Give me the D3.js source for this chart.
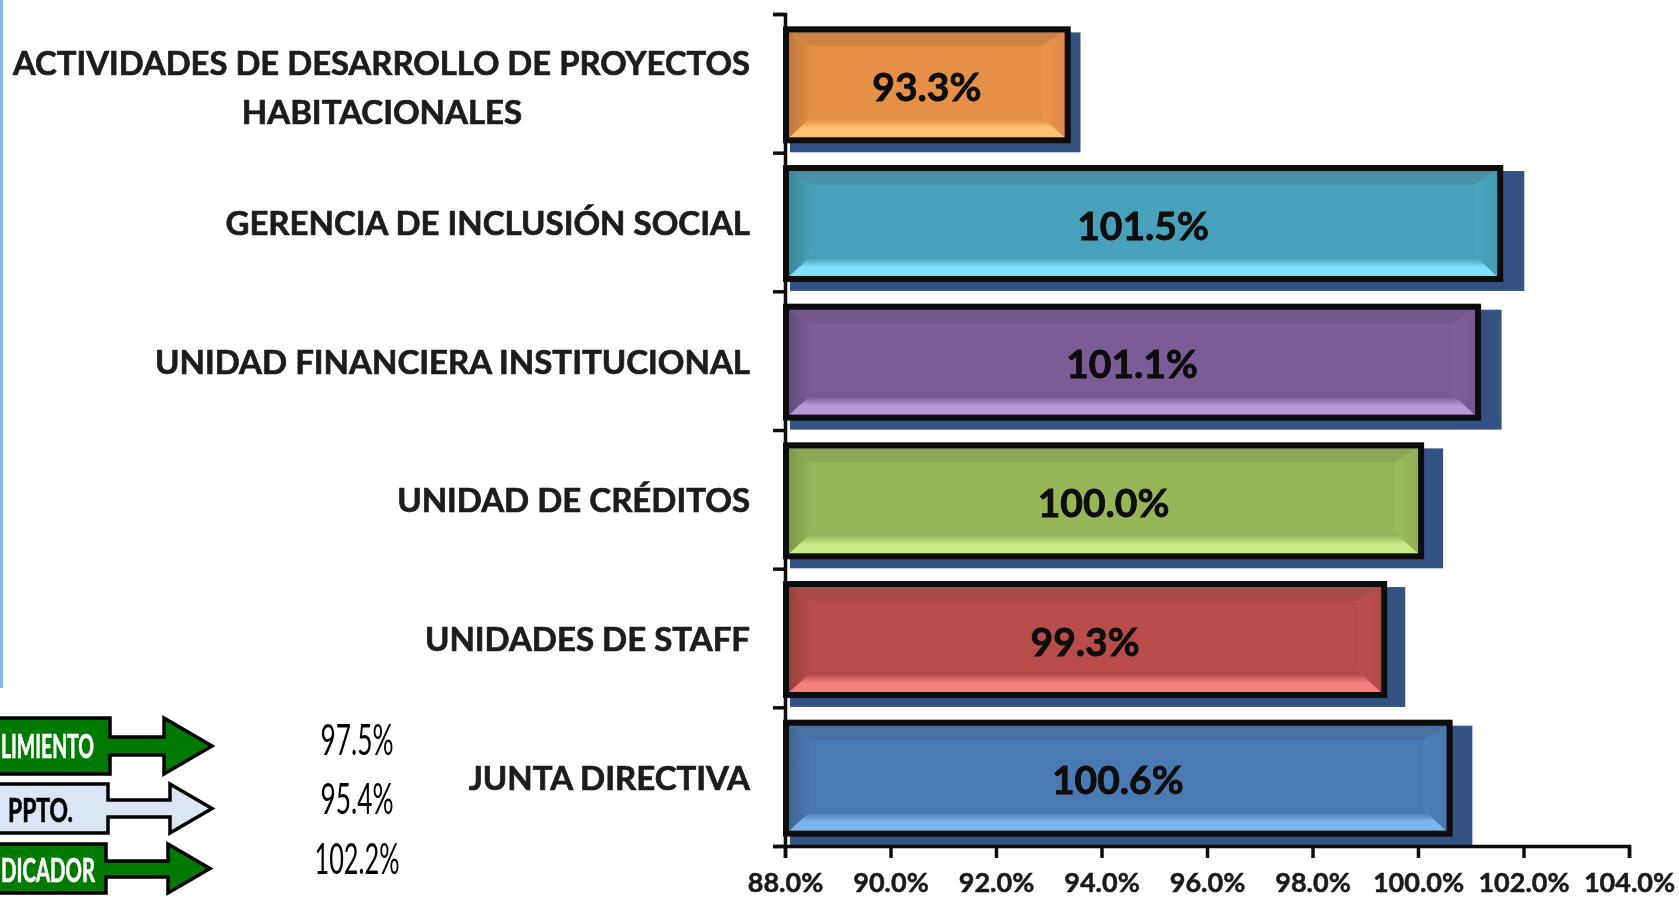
<!DOCTYPE html>
<html><head><meta charset="utf-8">
<script src="https://cdnjs.cloudflare.com/ajax/libs/d3/7.8.5/d3.min.js"></script>
<style>html,body{margin:0;padding:0;background:#fff;overflow:hidden}svg{display:block}</style>
</head><body><svg id="c" width="1679" height="899"></svg>
<script>
const categories = [["ACTIVIDADES DE DESARROLLO DE PROYECTOS","HABITACIONALES"],["GERENCIA DE INCLUSIÓN SOCIAL"],["UNIDAD FINANCIERA INSTITUCIONAL"],["UNIDAD DE CRÉDITOS"],["UNIDADES DE STAFF"],["JUNTA DIRECTIVA"]];
const values = [93.34,101.54,101.12,100.04,99.34,100.58];
const baseColors = ["#E68F47","#47A1BA","#7A5C97","#98B558","#B84D4A","#4C7AB3"];
const topColors = ["#C47F47","#4E8B9E","#6E5C88","#87A05A","#A3504D","#4F7099"];
const lightColors = ["#FFC172","#7FDEFA","#B798DA","#C9EA86","#F5807D","#80B4EF"];
const xTicks = [88,90,92,94,96,98,100,102,104];
const legendLabels = ["LIMIENTO","PPTO.","DICADOR"];
const legendValues = ["97.5%","95.4%","102.2%"];

const svg = d3.select("#c");
const defs = svg.append("defs");
defs.append("filter").attr("id","soft").attr("x",0).attr("y",0)
  .attr("filterUnits","userSpaceOnUse").attr("width",1679).attr("height",899)
  .append("feGaussianBlur").attr("stdDeviation",0.55);
const root = svg.append("g").attr("filter","url(#soft)");

const x = d3.scaleLinear().domain([88,104]).range([785,1629]);
const yTop = 14, yBottom = 846;
const y = d3.scaleBand().domain(d3.range(categories.length)).range([yTop,yBottom]).paddingInner(0.2).paddingOuter(0.1);
const yTick = d3.scaleLinear().domain([0,categories.length]).range([yTop,yBottom]);
const sw = 6;

root.append("rect").attr("x",0).attr("y",0).attr("width",3).attr("height",688).attr("fill","#85B8E2");

values.forEach((v,i)=>{
  const g1 = defs.append("linearGradient").attr("id","t"+i).attr("x1",0).attr("y1",0).attr("x2",0).attr("y2",1);
  g1.append("stop").attr("offset",0).attr("stop-color",topColors[i]);
  g1.append("stop").attr("offset",1).attr("stop-color",d3.color(baseColors[i]).darker(0.2));
  const g2 = defs.append("linearGradient").attr("id","b"+i).attr("x1",0).attr("y1",0).attr("x2",0).attr("y2",1);
  g2.append("stop").attr("offset",0).attr("stop-color",d3.color(baseColors[i]).darker(0.1));
  g2.append("stop").attr("offset",0.15).attr("stop-color",baseColors[i]);
  g2.append("stop").attr("offset",0.5).attr("stop-color",lightColors[i]);
  g2.append("stop").attr("offset",1).attr("stop-color",lightColors[i]);
  const g3 = defs.append("linearGradient").attr("id","l"+i);
  g3.append("stop").attr("offset",0).attr("stop-color",d3.color(baseColors[i]).darker(0.6));
  g3.append("stop").attr("offset",1).attr("stop-color",baseColors[i]);
  const g4 = defs.append("linearGradient").attr("id","r"+i);
  g4.append("stop").attr("offset",0).attr("stop-color",d3.color(baseColors[i]).brighter(0.1));
  g4.append("stop").attr("offset",1).attr("stop-color",d3.color(baseColors[i]).darker(0.15));
});

const poly = pts => pts.map(p=>p.join(",")).join(" ");
const dy = 1.5;
const bars = root.selectAll("g.bar").data(values).join("g").attr("class","bar");
bars.append("rect").attr("fill","#365282")
  .attr("x",x(88)+5).attr("y",(d,i)=>y(i)+dy+3)
  .attr("width",d=>(x(d)-x(88))*1.026+1.5)
  .attr("height",(d,i)=>Math.min(y.bandwidth()+9, yBottom-(y(i)+dy+3)));
bars.each(function(d,i){
  const g = d3.select(this);
  const x0 = x(88)+1, x1 = x(d)+1, y0 = y(i)+dy, y1 = y0+y.bandwidth();
  const bx = 26, bt = 17, bb = 24;
  g.append("rect").attr("x",x0).attr("y",y0).attr("width",x1-x0).attr("height",y1-y0).attr("fill",baseColors[i]);
  g.append("polygon").attr("fill",`url(#t${i})`).attr("points",poly([[x0,y0],[x1,y0],[x1-bx,y0+bt],[x0+bx,y0+bt]]));
  g.append("polygon").attr("fill",`url(#b${i})`).attr("points",poly([[x0,y1],[x1,y1],[x1-bx,y1-bb],[x0+bx,y1-bb]]));
  g.append("polygon").attr("fill",`url(#l${i})`).attr("points",poly([[x0,y0],[x0+bx,y0+bt],[x0+bx,y1-bb],[x0,y1]]));
  g.append("polygon").attr("fill",`url(#r${i})`).attr("points",poly([[x1,y0],[x1-bx,y0+bt],[x1-bx,y1-bb],[x1,y1]]));
  g.append("rect").attr("x",x0).attr("y",y0).attr("width",x1-x0).attr("height",y1-y0)
    .attr("fill","none").attr("stroke","#0a0a0a").attr("stroke-width",sw);
  g.append("text").attr("x",(x0+x1)/2).attr("y",(y0+y1)/2+16).attr("text-anchor","middle")
    .attr("font-family","Lato").attr("font-weight",700).attr("font-size",39).attr("fill","#0a0a0a")
    .attr("stroke","#0a0a0a").attr("stroke-width",0.8)
    .text(d.toFixed(1)+"%");
});

const yAxis = d3.axisLeft(yTick).ticks(categories.length).tickFormat("").tickSize(12).tickSizeOuter(12);
const ga = root.append("g").attr("transform",`translate(${x(88)},0)`).call(yAxis);
const xAxis = d3.axisBottom(x).tickValues(xTicks).tickFormat(d=>d.toFixed(1)+"%").tickSize(12).tickSizeOuter(12).tickPadding(15);
const gx = root.append("g").attr("transform",`translate(0,${yBottom})`).call(xAxis);
[ga,gx].forEach(a=>{a.selectAll("path,line").attr("stroke","#111").attr("stroke-width",3.5);});
gx.selectAll("text").attr("font-family","Lato").attr("font-weight",700).attr("font-size",27).attr("fill","#1a1a1a")
  .attr("stroke","#1a1a1a").attr("stroke-width",0.5);

const labels = root.selectAll("g.lab").data(categories).join("g").attr("class","lab");
labels.each(function(lines,i){
  const cy = yTick(i+0.5);
  const g = d3.select(this);
  const common = t=>t.attr("font-family","Lato").attr("font-weight",700).attr("font-size",33).attr("fill","#1c1c1c")
    .attr("stroke","#1c1c1c").attr("stroke-width",0.7);
  if(lines.length===2){
    common(g.append("text")).attr("x",13).attr("y",75).attr("textLength",737).attr("lengthAdjust","spacingAndGlyphs").text(lines[0]);
    common(g.append("text")).attr("x",382).attr("y",124).attr("text-anchor","middle").text(lines[1]);
  } else {
    common(g.append("text")).attr("x",750).attr("y",cy+13).attr("text-anchor","end").text(lines[0]);
  }
});

const arrows = [
 {l:-5,r:110,t:718,b:774,st:737,sb:755,hx:164,tip:212,fill:"#037A03",tc:"#fff",tx:1,tw:93,by:758},
 {l:-5,r:108,t:784,b:833,st:800,sb:817,hx:170,tip:212,fill:"#DCE6F2",tc:"#000",tx:8,tw:65,by:822},
 {l:-5,r:106,t:844,b:893,st:861,sb:877,hx:168,tip:210,fill:"#037A03",tc:"#fff",tx:1,tw:94,by:882}];
const vals = [{cx:357,by:755,w:73},{cx:357,by:814,w:73},{cx:357,by:874,w:85}];
arrows.forEach((a,i)=>{
  root.append("polygon").attr("fill",a.fill).attr("stroke","#000").attr("stroke-width",3.5)
   .attr("points",poly([[a.l,a.t],[a.r,a.t],[a.r,a.st],[a.hx,a.st],[a.hx,a.t],[a.tip,(a.t+a.b)/2],[a.hx,a.b],[a.hx,a.sb],[a.r,a.sb],[a.r,a.b],[a.l,a.b]]));
  root.append("text").attr("x",a.tx).attr("y",a.by).attr("textLength",a.tw).attr("lengthAdjust","spacingAndGlyphs")
   .attr("font-family","Lato").attr("font-weight",700).attr("font-size",32).attr("fill",a.tc)
   .attr("stroke",a.tc).attr("stroke-width",0.7).text(legendLabels[i]);
  const v = vals[i];
  root.append("text").attr("x",v.cx-v.w/2).attr("y",v.by).attr("textLength",v.w).attr("lengthAdjust","spacingAndGlyphs")
   .attr("font-family","Lato").attr("font-weight",400).attr("font-size",42).attr("fill","#000").text(legendValues[i]);
});
</script></body></html>
